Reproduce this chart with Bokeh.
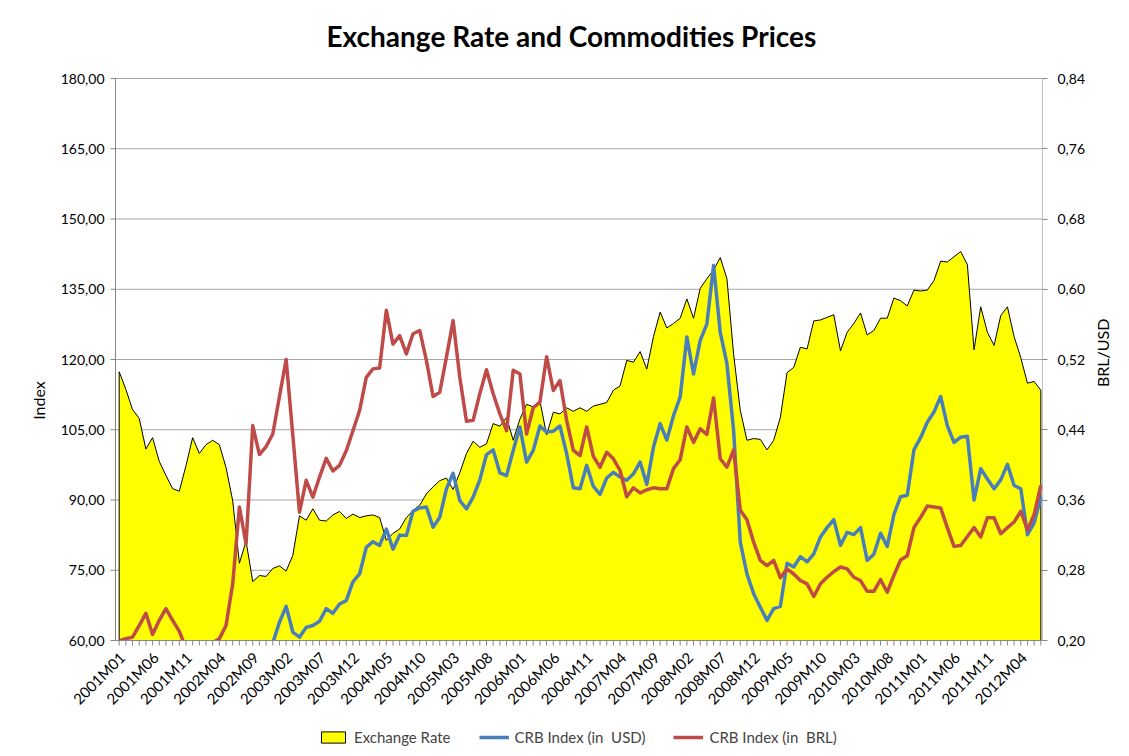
import math
from bokeh.plotting import figure
from bokeh.models import (Range1d, LinearAxis, FixedTicker, CustomJSTickFormatter,
                          Legend, LegendItem)
from bokeh.core.properties import value
from bokeh.embed import file_html
from bokeh.resources import INLINE

# ---------------- data ----------------
months = [f"{y}M{m:02d}" for y in range(2001, 2013) for m in range(1, 13)][:139]

exchange_rate = [  # BRL/USD (right axis)
    0.506, 0.486, 0.463, 0.453, 0.418, 0.431, 0.404, 0.388, 0.373, 0.370,
    0.399, 0.431, 0.413, 0.423, 0.428, 0.423, 0.397, 0.359, 0.288, 0.313,
    0.267, 0.274, 0.273, 0.282, 0.285, 0.279, 0.297, 0.342, 0.337, 0.350,
    0.337, 0.336, 0.343, 0.347, 0.339, 0.344, 0.340, 0.342, 0.343, 0.340,
    0.314, 0.322, 0.327, 0.340, 0.348, 0.354, 0.367, 0.375, 0.382, 0.385,
    0.372, 0.391, 0.413, 0.427, 0.420, 0.424, 0.447, 0.444, 0.454, 0.428,
    0.452, 0.469, 0.466, 0.473, 0.434, 0.460, 0.458, 0.465, 0.461, 0.465,
    0.461, 0.467, 0.469, 0.471, 0.485, 0.490, 0.519, 0.517, 0.529, 0.509,
    0.546, 0.574, 0.556, 0.561, 0.567, 0.589, 0.567, 0.601, 0.612, 0.622,
    0.636, 0.612, 0.526, 0.462, 0.428, 0.430, 0.429, 0.417, 0.428, 0.454,
    0.505, 0.511, 0.534, 0.532, 0.564, 0.565, 0.568, 0.571, 0.530, 0.551,
    0.561, 0.573, 0.548, 0.553, 0.567, 0.567, 0.590, 0.587, 0.581, 0.599,
    0.598, 0.599, 0.610, 0.632, 0.631, 0.637, 0.643, 0.628, 0.531, 0.580,
    0.551, 0.536, 0.570, 0.580, 0.546, 0.522, 0.493, 0.495, 0.485,
]

crb_usd = [
    60.0, 59.3, 56.8, 57.8, 55.6, 53.4, 52.5, 52.4, 48.5, 46.3,
    47.0, 48.0, 49.0, 50.0, 51.0, 51.6, 50.7, 52.3, 51.6, 50.8,
    57.1, 55.1, 55.9, 59.5, 63.9, 67.3, 61.8, 60.7, 62.8, 63.2,
    64.1, 66.8, 65.8, 67.8, 68.5, 72.5, 74.2, 79.9, 81.1, 80.3,
    83.8, 79.5, 82.5, 82.4, 87.6, 88.3, 88.5, 84.2, 86.3, 92.4,
    95.7, 89.9, 88.1, 90.6, 94.3, 99.7, 100.7, 95.8, 95.2, 100.6,
    105.6, 98.1, 100.6, 105.8, 104.5, 104.7, 105.8, 99.9, 92.6, 92.4,
    97.4, 92.9, 91.2, 94.7, 95.9, 94.9, 94.2, 95.6, 98.1, 93.3,
    101.3, 106.3, 102.8, 108.0, 112.0, 124.8, 116.9, 124.1, 127.6, 140.1,
    125.8, 119.1, 104.8, 81.0, 74.2, 70.0, 67.1, 64.3, 66.8, 67.3,
    76.5, 75.7, 77.9, 76.8, 78.5, 82.1, 84.1, 85.8, 80.3, 83.1,
    82.6, 84.1, 77.1, 78.4, 82.9, 80.1, 86.9, 90.7, 91.0, 100.7,
    103.3, 106.6, 108.8, 112.1, 105.9, 102.3, 103.4, 103.6, 90.0, 96.7,
    94.5, 92.4, 94.3, 97.6, 93.1, 92.4, 82.6, 85.1, 90.6,
]

crb_brl = [
    59.9, 60.4, 60.7, 63.2, 65.8, 61.3, 64.3, 66.8, 64.3, 62.0,
    58.3, 55.5, 57.0, 58.0, 59.5, 60.4, 63.2, 72.1, 88.5, 80.6,
    105.9, 99.7, 101.4, 104.1, 112.1, 120.0, 103.8, 87.4, 94.2, 90.6,
    94.9, 98.9, 96.2, 97.4, 100.5, 104.8, 109.1, 116.2, 118.0, 118.2,
    130.5, 123.3, 125.1, 121.2, 125.5, 126.2, 119.8, 112.1, 113.0, 120.5,
    128.3, 116.2, 106.8, 107.0, 112.7, 117.8, 112.7, 108.4, 104.8, 117.7,
    116.9, 104.1, 109.7, 110.9, 120.6, 113.4, 115.5, 107.0, 100.6, 99.5,
    105.6, 99.3, 97.0, 100.2, 98.8, 96.3, 90.7, 92.6, 91.5, 92.2,
    92.6, 92.4, 92.4, 96.7, 98.6, 105.6, 102.3, 105.2, 104.0, 111.8,
    98.8, 97.0, 100.7, 87.8, 85.8, 81.0, 77.1, 76.0, 77.1, 73.4,
    75.3, 74.2, 72.8, 72.1, 69.4, 72.1, 73.5, 74.7, 75.7, 75.3,
    73.5, 72.8, 70.5, 70.5, 73.0, 70.3, 73.9, 77.2, 78.1, 84.1,
    86.3, 88.7, 88.5, 88.3, 84.1, 80.1, 80.3, 82.2, 84.1, 82.1,
    86.2, 86.2, 82.8, 84.1, 85.3, 87.6, 83.6, 86.9, 93.1,
]

left_ticks = [60, 75, 90, 105, 120, 135, 150, 165, 180]
left_labels = ["60,00", "75,00", "90,00", "105,00", "120,00", "135,00", "150,00", "165,00", "180,00"]
right_ticks = [0.20, 0.28, 0.36, 0.44, 0.52, 0.60, 0.68, 0.76, 0.84]

# ---------------- layout constants ----------------
FONT = "Lato"
GRID = "#A6A6A6"
AXIS = "#868686"

PLOT_W = 927            # width of the plotting area (between the two value axes)
PLOT_H = 562            # height of the 60..180 band in px
EXTRA_B = 108           # room below the band (category labels + legend)
EXTRA_L = 95            # room left of the band (value labels + axis title)
EXTRA_T = 12            # room above the band (so the top value label is not cut)
L0, L1 = 60, 180
R0, R1 = 0.20, 0.84
upp_left = (L1 - L0) / PLOT_H
upp_right = (R1 - R0) / PLOT_H

n = len(months)
xs = list(range(n))
x_start, x_end = -0.55, n - 1 + 0.25
upp_x = (x_end - x_start) / PLOT_W

p = figure(frame_width=PLOT_W + EXTRA_L, frame_height=PLOT_H + EXTRA_B + EXTRA_T,
           min_border_left=115 - EXTRA_L, min_border_right=79,
           min_border_top=78 - EXTRA_T, min_border_bottom=0,
           x_axis_location=None, y_axis_location=None,
           x_range=Range1d(x_start - EXTRA_L * upp_x, x_end),
           y_range=Range1d(L0 - EXTRA_B * upp_left, L1 + EXTRA_T * upp_left),
           output_backend="svg", toolbar_location=None,
           background_fill_color="white", border_fill_color="white")
p.outline_line_color = None
p.grid.visible = False
p.extra_y_ranges = {"er": Range1d(R0 - EXTRA_B * upp_right, R1 + EXTRA_T * upp_right)}

p.title.text = "Exchange Rate and Commodities Prices"
p.title.align = "left"
p.title.text_font = FONT
p.title.text_font_size = "28px"
p.title.text_font_style = "bold"
p.title.text_color = "black"
p.title.standoff = 39 - EXTRA_T
p.title.offset = 306

fmt = CustomJSTickFormatter(code="return tick.toFixed(2).replace('.', ',');")
NB = "\u00a0"

# right axis (real Bokeh axis)
ra = LinearAxis(y_range_name="er", ticker=FixedTicker(ticks=right_ticks), formatter=fmt)
ra.axis_label = NB * 5 + "BRL/USD"
ra.axis_label_text_font = FONT
ra.axis_label_text_font_size = "16px"
ra.axis_label_text_font_style = "normal"
ra.axis_label_text_color = "black"
ra.axis_label_standoff = 14
try:
    ra.axis_label_orientation = math.pi / 2
except Exception:
    pass
ra.major_label_text_font = FONT
ra.major_label_text_font_size = "14px"
ra.major_label_text_color = "black"
ra.major_label_standoff = 10
ra.major_tick_out = 5
ra.major_tick_in = 0
ra.minor_tick_out = 0
ra.minor_tick_in = 0
ra.axis_line_color = None
ra.major_tick_line_color = AXIS
p.add_layout(ra, "right")

# horizontal gridlines (behind the area)
p.segment(x0=[x_start] * len(left_ticks), y0=left_ticks,
          x1=[x_end] * len(left_ticks), y1=left_ticks,
          line_color=GRID, line_width=1)

# area (exchange rate) as a closed polygon on the right axis
area_x = [xs[0]] + xs + [xs[-1]]
area_y = [R0] + exchange_rate + [R0]
r_area = p.patch(area_x, area_y, fill_color="#FFFF00", line_color="black",
                 line_width=1, y_range_name="er")

r_usd = p.line(xs, crb_usd, line_color="#4A7EBB", line_width=3.5, line_join="round")
r_brl = p.line(xs, crb_brl, line_color="#BE4B48", line_width=3.5, line_join="round")

# mask everything below the 60 line
p.quad(left=[x_start], right=[x_end], bottom=[L0 - EXTRA_B * upp_left], top=[L0],
       fill_color="white", line_color=None)

# axis lines (left, right, bottom)
p.segment(x0=[x_start, x_end, x_start], y0=[L0, L0, L0],
          x1=[x_start, x_end, x_end], y1=[L1, L1, L0],
          line_color=AXIS, line_width=1)

# left value axis: ticks, labels and title
p.segment(x0=[x_start] * len(left_ticks), y0=left_ticks,
          x1=[x_start - 5 * upp_x] * len(left_ticks), y1=left_ticks,
          line_color=AXIS, line_width=1)
p.text(x=[x_start] * len(left_ticks), y=left_ticks, text=left_labels,
       text_align="right", text_baseline="middle", x_offset=-11,
       text_font=value(FONT), text_font_size="14px", text_color="black")
p.text(x=[x_start], y=[(L0 + L1) / 2], text=["Index"], angle=math.pi / 2,
       text_align="center", text_baseline="middle", x_offset=-77, y_offset=41,
       text_font=value(FONT), text_font_size="16px", text_color="black")

# category ticks (one per month) and labels (every 5th month)
p.segment(x0=xs, y0=[L0] * n, x1=xs, y1=[L0 - 5 * upp_left] * n,
          line_color=AXIS, line_width=1)
lab_idx = list(range(0, n, 5))
p.text(x=lab_idx, y=[L0] * len(lab_idx), text=[months[i] for i in lab_idx],
       angle=math.pi / 4, text_align="right", text_baseline="middle",
       x_offset=3, y_offset=14,
       text_font=value(FONT), text_font_size="15px", text_color="black")

legend = Legend(items=[LegendItem(label="Exchange Rate", renderers=[r_area]),
                       LegendItem(label="CRB Index (in  USD)", renderers=[r_usd]),
                       LegendItem(label="CRB Index (in  BRL)", renderers=[r_brl])],
                orientation="horizontal", location=(EXTRA_L + 203, 2),
                background_fill_alpha=0, border_line_color=None,
                label_text_font=FONT, label_text_font_size="15px",
                glyph_width=30, glyph_height=14, label_height=16,
                label_standoff=6, spacing=28, padding=0, margin=0)
p.add_layout(legend)

open("out.html", "w").write(file_html(p, INLINE))
